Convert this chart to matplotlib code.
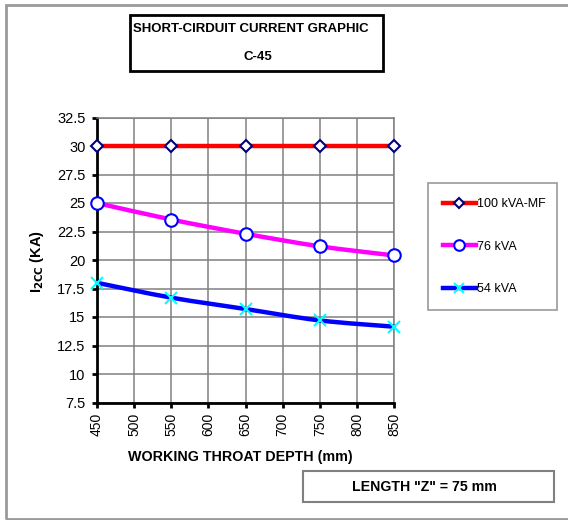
import matplotlib
matplotlib.use("Agg")
import matplotlib.pyplot as plt
import numpy as np
from matplotlib.path import Path
from matplotlib.patches import PathPatch, Rectangle
from matplotlib.lines import Line2D

# ---- data ----
depth = [450, 550, 650, 750, 850]
kva100 = [30, 30, 30, 30, 30]
kva76 = [25, 23.55, 22.3, 21.2, 20.4]
kva54 = [18.0, 16.7, 15.7, 14.7, 14.15]
series_names = ["100 kVA-MF", "76 kVA", "54 kVA"]
yticks = [7.5, 10, 12.5, 15, 17.5, 20, 22.5, 25, 27.5, 30, 32.5]
xticks = [450, 500, 550, 600, 650, 700, 750, 800, 850]

plt.rcParams['font.family'] = ['Liberation Sans', 'DejaVu Sans']

fig = plt.figure(figsize=(5.68, 5.20), dpi=100)
W, H = 568, 520

def fx(px):
    return px / W

def fy(py):
    return 1 - py / H

# outer border
fig.patches.append(Rectangle((fx(6), fy(519)), 1.2, fy(5) - fy(519), transform=fig.transFigure,
                             fill=False, edgecolor='#9a9a9a', linewidth=2))

X0, X1, Y0, Y1 = 97, 394, 402.5, 117.5
ax = fig.add_axes([fx(X0), fy(Y0), fx(X1) - fx(X0), fy(Y1) - fy(Y0)])
ax.set_xlim(450, 850)
ax.set_ylim(7.5, 32.5)
ax.set_xticks(xticks)
ax.set_yticks(yticks)
ax.set_xticklabels([str(v) for v in xticks], rotation=90, fontsize=10)
ax.set_yticklabels([f"{v:g}" for v in yticks], fontsize=10.5)
ax.grid(True, color='#808080', linewidth=1.1)
ax.set_axisbelow(True)
for s in ['top', 'right']:
    ax.spines[s].set_color('#808080')
    ax.spines[s].set_linewidth(1.1)
for s in ['left', 'bottom']:
    ax.spines[s].set_color('black')
    ax.spines[s].set_linewidth(2)
ax.tick_params(direction='out', length=3.8, width=2, color='black')
ax.tick_params(axis='y', pad=4.5)
ax.tick_params(axis='x', pad=3.5)


def smooth_path(xs, ys):
    pts = np.column_stack([xs, ys]).astype(float)
    n = len(pts)
    verts = [pts[0]]
    codes = [Path.MOVETO]
    for i in range(n - 1):
        p0 = pts[i - 1] if i > 0 else pts[i]
        p1 = pts[i]
        p2 = pts[i + 1]
        p3 = pts[i + 2] if i + 2 < n else pts[i + 1]
        c1 = p1 + (p2 - p0) / 6.0
        c2 = p2 - (p3 - p1) / 6.0
        verts += [c1, c2, p2]
        codes += [Path.CURVE4] * 3
    return Path(verts, codes)

styles = [
    dict(color='#ff0000', marker='D', ms=6, mfc='white', mec='#000080', mew=1.5),
    dict(color='#ff00ff', marker='o', ms=9, mfc='white', mec='#0000ff', mew=1.5),
    dict(color='#0000ff', marker='x', ms=9, mfc='none', mec='#00ffff', mew=1.5),
]
handles = []
for ys, st, name in zip([kva100, kva76, kva54], styles, series_names):
    ax.add_patch(PathPatch(smooth_path(depth, ys), facecolor='none', edgecolor=st['color'],
                           linewidth=3.2, capstyle='round', clip_on=False, zorder=3))
    ax.plot(depth, ys, linestyle='none', marker=st['marker'], ms=st['ms'], mfc=st['mfc'],
            mec=st['mec'], mew=st['mew'], clip_on=False, zorder=4)
    handles.append(Line2D([], [], color=st['color'], linewidth=3.2, marker=st['marker'],
                          ms=st['ms'] * 0.85, mfc=st['mfc'], mec=st['mec'], mew=st['mew']))

ax.set_xlabel("WORKING THROAT DEPTH (mm)", fontsize=10.3, fontweight='bold')
ax.xaxis.label.set_va('center')
ax.xaxis.set_label_coords((240 - X0) / (X1 - X0), (Y0 - 457) / (Y0 - Y1))
ax.set_ylabel(r"I$_{\mathbf{2CC}}$ (KA)", fontsize=10.5, fontweight='bold')
ax.yaxis.label.set_va('center')
ax.yaxis.set_label_coords((37 - X0) / (X1 - X0), (Y0 - 261) / (Y0 - Y1))

# legend
leg = fig.legend(handles, series_names, loc='upper left',
                 bbox_to_anchor=(fx(428), fy(307), fx(557) - fx(428), fy(183) - fy(307)),
                 mode='expand', borderaxespad=0, fontsize=9, frameon=True, fancybox=False,
                 handlelength=2.6, handletextpad=0.1, labelspacing=2.45, borderpad=1.2)
leg.get_frame().set_edgecolor('#808080')
leg.get_frame().set_linewidth(1.2)

# title box
fig.patches.append(Rectangle((fx(130), fy(71)), fx(383) - fx(130), fy(15) - fy(71),
                             transform=fig.transFigure, fill=False, edgecolor='black', linewidth=2))
fig.text(fx(251), fy(29), "SHORT-CIRDUIT CURRENT GRAPHIC", ha='center', va='center',
         fontsize=9.5, fontweight='bold')
fig.text(fx(258), fy(57), "C-45", ha='center', va='center',
         fontsize=9.5, fontweight='bold')

# bottom box
fig.patches.append(Rectangle((fx(303), fy(502)), fx(554) - fx(303), fy(471) - fy(502),
                             transform=fig.transFigure, fill=False, edgecolor='#808080', linewidth=1.5))
fig.text(fx(424), fy(487), 'LENGTH "Z" = 75 mm', ha='center', va='center',
         fontsize=10.2, fontweight='bold')

fig.savefig("out.png", dpi=100)
